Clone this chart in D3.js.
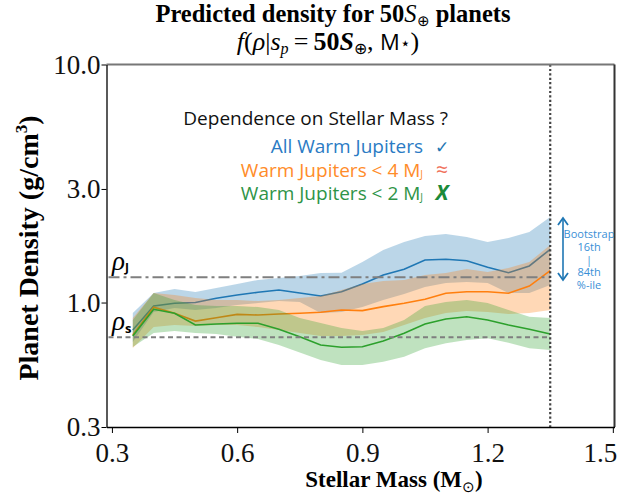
<!DOCTYPE html>
<html><head><meta charset="utf-8">
<script src="https://cdn.jsdelivr.net/npm/d3@7"></script>
<style>body{margin:0;background:#fff}svg{display:block}</style>
</head><body>
<svg id="chart" width="618" height="495"></svg>
<script>
const mass = [0.35,0.40,0.45,0.50,0.55,0.60,0.65,0.70,0.75,0.80,0.85,0.90,0.95,1.00,1.05,1.10,1.15,1.20,1.25,1.30,1.35];

const allMed = [0.767,0.967,0.993,1.000,1.042,1.076,1.104,1.129,1.097,1.065,1.110,1.196,1.305,1.379,1.509,1.519,1.499,1.406,1.334,1.424,1.674];
const allHi  = [0.904,1.097,1.140,1.107,1.151,1.196,1.244,1.268,1.292,1.331,1.334,1.480,1.662,1.796,1.904,1.941,1.885,1.796,1.867,1.979,2.288];
const allLo  = [0.683,0.912,0.949,0.930,0.949,0.976,0.995,1.015,1.005,0.904,0.912,0.958,1.025,1.086,1.162,1.208,1.220,1.208,1.097,1.097,1.185];

const lt4Med = [0.730,0.955,0.901,0.836,0.863,0.892,0.886,0.895,0.901,0.910,0.930,0.925,0.961,0.993,1.032,1.094,1.110,1.110,1.094,1.173,1.361];
const lt4Hi  = [0.861,1.097,1.076,1.045,1.025,1.025,1.015,1.025,1.045,1.065,1.129,1.196,1.232,1.244,1.305,1.331,1.383,1.344,1.397,1.480,1.745];
const lt4Lo  = [0.644,0.789,0.805,0.797,0.805,0.805,0.789,0.767,0.745,0.724,0.724,0.730,0.752,0.805,0.861,0.904,0.921,0.912,0.895,0.904,0.930];

const lt2Med = [0.724,0.937,0.901,0.805,0.812,0.818,0.818,0.772,0.719,0.663,0.649,0.652,0.690,0.743,0.812,0.853,0.872,0.845,0.805,0.772,0.738];
const lt2Hi  = [0.845,1.097,1.025,0.976,0.967,0.967,0.958,0.930,0.861,0.820,0.782,0.760,0.782,0.845,0.967,1.005,1.025,0.995,0.930,0.872,0.861];
const lt2Lo  = [0.650,0.745,0.760,0.745,0.738,0.719,0.703,0.663,0.616,0.574,0.547,0.547,0.564,0.592,0.642,0.674,0.696,0.708,0.678,0.642,0.632];

const rhoJ = 1.276, rhoS = 0.715, massLimit = 1.35;
const xTicks = [0.3,0.6,0.9,1.2,1.5];
const yTicks = [0.3,1.0,3.0,10.0];

const colors = {all:"#1f77b4", lt4:"#ff7f0e", lt2:"#2ca02c"};
const series = [
  {key:"all", med:allMed, hi:allHi, lo:allLo},
  {key:"lt4", med:lt4Med, hi:lt4Hi, lo:lt4Lo},
  {key:"lt2", med:lt2Med, hi:lt2Hi, lo:lt2Lo}
];

const svg = d3.select("#chart");
const L=106.5, R=614.5, T=64.5, B=427;
const x = d3.scaleLinear().domain([0.287,1.504]).range([L,R]);
const y = d3.scaleLog().domain([0.3,10]).range([B,T]);
const serif = "'Liberation Serif','Times New Roman',serif";
const sans = "'Open Sans','Noto Sans',sans-serif";

// bands and lines
series.forEach(s=>{
  const rows = mass.map((m,i)=>({m, lo:s.lo[i], hi:s.hi[i], med:s.med[i]}));
  svg.append("path").datum(rows)
    .attr("d", d3.area().x(d=>x(d.m)).y0(d=>y(d.lo)).y1(d=>y(d.hi)))
    .attr("fill", colors[s.key]).attr("fill-opacity",0.3);
  svg.append("path").datum(rows)
    .attr("d", d3.line().x(d=>x(d.m)).y(d=>y(d.med)))
    .attr("fill","none").attr("stroke",colors[s.key]).attr("stroke-width",1.6);
});

// reference lines
svg.append("line").attr("x1",L+2).attr("x2",x(massLimit)).attr("y1",y(rhoJ)).attr("y2",y(rhoJ))
  .attr("stroke","#7f7f7f").attr("stroke-width",2).attr("stroke-dasharray","11,4,3,4");
svg.append("line").attr("x1",L+2).attr("x2",x(massLimit)).attr("y1",y(rhoS)).attr("y2",y(rhoS))
  .attr("stroke","#7f7f7f").attr("stroke-width",2).attr("stroke-dasharray","5,3.5");
svg.append("line").attr("x1",x(massLimit)).attr("x2",x(massLimit)).attr("y1",T).attr("y2",B)
  .attr("stroke","#444").attr("stroke-width",2.2).attr("stroke-dasharray","2.2,2.2");

// rho labels
const rj = svg.append("text").attr("x",112).attr("y",270).attr("font-family",serif).attr("font-size",27).attr("font-style","italic");
rj.append("tspan").text("ρ");
rj.append("tspan").attr("font-family",sans).attr("font-style","normal").attr("font-weight","bold").attr("font-size",12).attr("dy",2).text("J");
const rs = svg.append("text").attr("x",112).attr("y",330).attr("font-family",serif).attr("font-size",27).attr("font-style","italic");
rs.append("tspan").text("ρ");
rs.append("tspan").attr("font-family",sans).attr("font-style","normal").attr("font-weight","bold").attr("font-size",13).attr("dy",3).text("s");

// frame
svg.append("line").attr("x1",L).attr("x2",R).attr("y1",T).attr("y2",T).attr("stroke","#777").attr("stroke-width",2);
svg.append("line").attr("x1",R).attr("x2",R).attr("y1",T).attr("y2",B).attr("stroke","#333").attr("stroke-width",2);

// axes
const xAxis = svg.append("g").attr("transform",`translate(0,${B})`)
  .call(d3.axisBottom(x).tickValues(xTicks).tickFormat(d3.format(".1f")).tickSize(6).tickSizeOuter(0));
const yAxis = svg.append("g").attr("transform",`translate(${L},0)`)
  .call(d3.axisLeft(y).tickValues(yTicks).tickFormat(d3.format(".1f")).tickSize(5).tickSizeOuter(0));
[xAxis,yAxis].forEach(g=>{
  g.select(".domain").attr("stroke","#000").attr("stroke-width",1.3);
  g.selectAll(".tick line").attr("stroke","#000").attr("stroke-width",1);
  g.selectAll(".tick text").attr("font-family",serif).attr("font-size",27).attr("fill","#111");
});
xAxis.selectAll(".tick text").attr("dy",0).attr("y",35);
xAxis.selectAll(".tick text").filter(d=>d===1.5).attr("text-anchor","end").attr("x",4);
yAxis.selectAll(".tick text").attr("x",-6).attr("dy","0.33em");

// titles
const t1 = svg.append("text").attr("x",333).attr("y",22).attr("text-anchor","middle")
  .attr("font-family",serif).attr("font-size",24.5).attr("font-weight","bold");
t1.append("tspan").text("Predicted density for 50");
t1.append("tspan").attr("font-style","italic").attr("font-weight","normal").text("S");
t1.append("tspan").attr("font-size",15).attr("font-weight","normal").attr("dy",4).text("⊕");
t1.append("tspan").attr("dy",-4).text(" planets");

const t2 = svg.append("text").attr("x",328).attr("y",50).attr("text-anchor","middle")
  .attr("font-family",serif).attr("font-size",26);
t2.append("tspan").attr("font-style","italic").text("f");
t2.append("tspan").text("(");
t2.append("tspan").attr("font-style","italic").text("ρ");
t2.append("tspan").text("|");
t2.append("tspan").attr("font-style","italic").text("s");
t2.append("tspan").attr("font-style","italic").attr("font-size",16).attr("dy",4).text("p");
t2.append("tspan").attr("dy",-4).text("\u2009=\u2009");
t2.append("tspan").attr("font-weight","bold").text("50");
t2.append("tspan").attr("font-style","italic").attr("font-weight","bold").text("S");
t2.append("tspan").attr("font-size",16).attr("dy",4).text("⊕");
t2.append("tspan").attr("dy",-4).text(", ");
t2.append("tspan").attr("font-family",sans).attr("font-size",22).text("M");
t2.append("tspan").attr("font-family","'DejaVu Sans',sans-serif").attr("font-size",17).attr("dy",-1).text("⋆");
t2.append("tspan").attr("dy",1).text(")");

// axis labels
const xl = svg.append("text").attr("x",394).attr("y",487).attr("text-anchor","middle")
  .attr("font-family",serif).attr("font-size",23).attr("font-weight","bold");
xl.append("tspan").text("Stellar Mass (M");
xl.append("tspan").attr("font-size",15).attr("font-weight","normal").attr("dy",5).text("⊙");
xl.append("tspan").attr("dy",-5).text(")");

const yl = svg.append("text").attr("transform","translate(38,248) rotate(-90)").attr("text-anchor","middle")
  .attr("font-family",serif).attr("font-size",28).attr("font-weight","bold");
yl.append("tspan").text("Planet Density (g/cm");
yl.append("tspan").attr("font-size",17).attr("dy",-11).text("3");
yl.append("tspan").attr("dy",11).text(")");

// legend text
const legX = 423;
svg.append("text").attr("x",448).attr("y",125).attr("text-anchor","end")
  .attr("font-family",sans).attr("font-size",19).attr("fill","#111").text("Dependence on Stellar Mass ?");
const legRows = [
  {key:"all", label:"All Warm Jupiters", sub:"", mark:"✓", markColor:"#1f77b4", y:153, tcol:"#2b7bc4"},
  {key:"lt4", label:"Warm Jupiters < 4 M", sub:"J", mark:"≈", markColor:"#f0705a", y:177, tcol:"#ff8c2a"},
  {key:"lt2", label:"Warm Jupiters < 2 M", sub:"J", mark:"X", markColor:"#1b8a3a", y:200, tcol:"#2e9447"}
];
legRows.forEach(r=>{
  const t = svg.append("text").attr("x",legX).attr("y",r.y).attr("text-anchor","end")
    .attr("font-family",sans).attr("font-size",19).attr("fill",r.tcol);
  t.append("tspan").text(r.label);
  if(r.sub) t.append("tspan").attr("font-size",10).attr("dy",1).text(r.sub);
  const m = svg.append("text").attr("x",442).attr("y",r.y).attr("text-anchor","middle")
    .attr("fill",r.markColor).text(r.mark);
  if(r.mark==="✓") m.attr("font-family","'DejaVu Sans',sans-serif").attr("font-size",17);
  else if(r.mark==="≈") m.attr("font-family",sans).attr("font-size",21);
  else m.attr("font-family",sans).attr("font-size",21).attr("font-weight","bold").attr("font-style","italic");
});

// bootstrap annotation
const ax = 563, ay1 = 218, ay2 = 280, ac = "#1f77b4";
svg.append("line").attr("x1",ax).attr("x2",ax).attr("y1",ay1).attr("y2",ay2).attr("stroke",ac).attr("stroke-width",1.6);
svg.append("path").attr("d",`M${ax-5},${ay1+7}L${ax},${ay1}L${ax+5},${ay1+7}`).attr("fill","none").attr("stroke",ac).attr("stroke-width",1.8);
svg.append("path").attr("d",`M${ax-5},${ay2-7}L${ax},${ay2}L${ax+5},${ay2-7}`).attr("fill","none").attr("stroke",ac).attr("stroke-width",1.8);
const annLines = ["Bootstrap","16th","|","84th","%-ile"];
const annY = [238,251,264,276,289];
annLines.forEach((s,i)=>{
  svg.append("text").attr("x",589).attr("y",annY[i]).attr("text-anchor","middle")
    .attr("font-family",sans).attr("font-size",11).attr("fill","#3a8fd6").text(s);
});
</script>
</body></html>
